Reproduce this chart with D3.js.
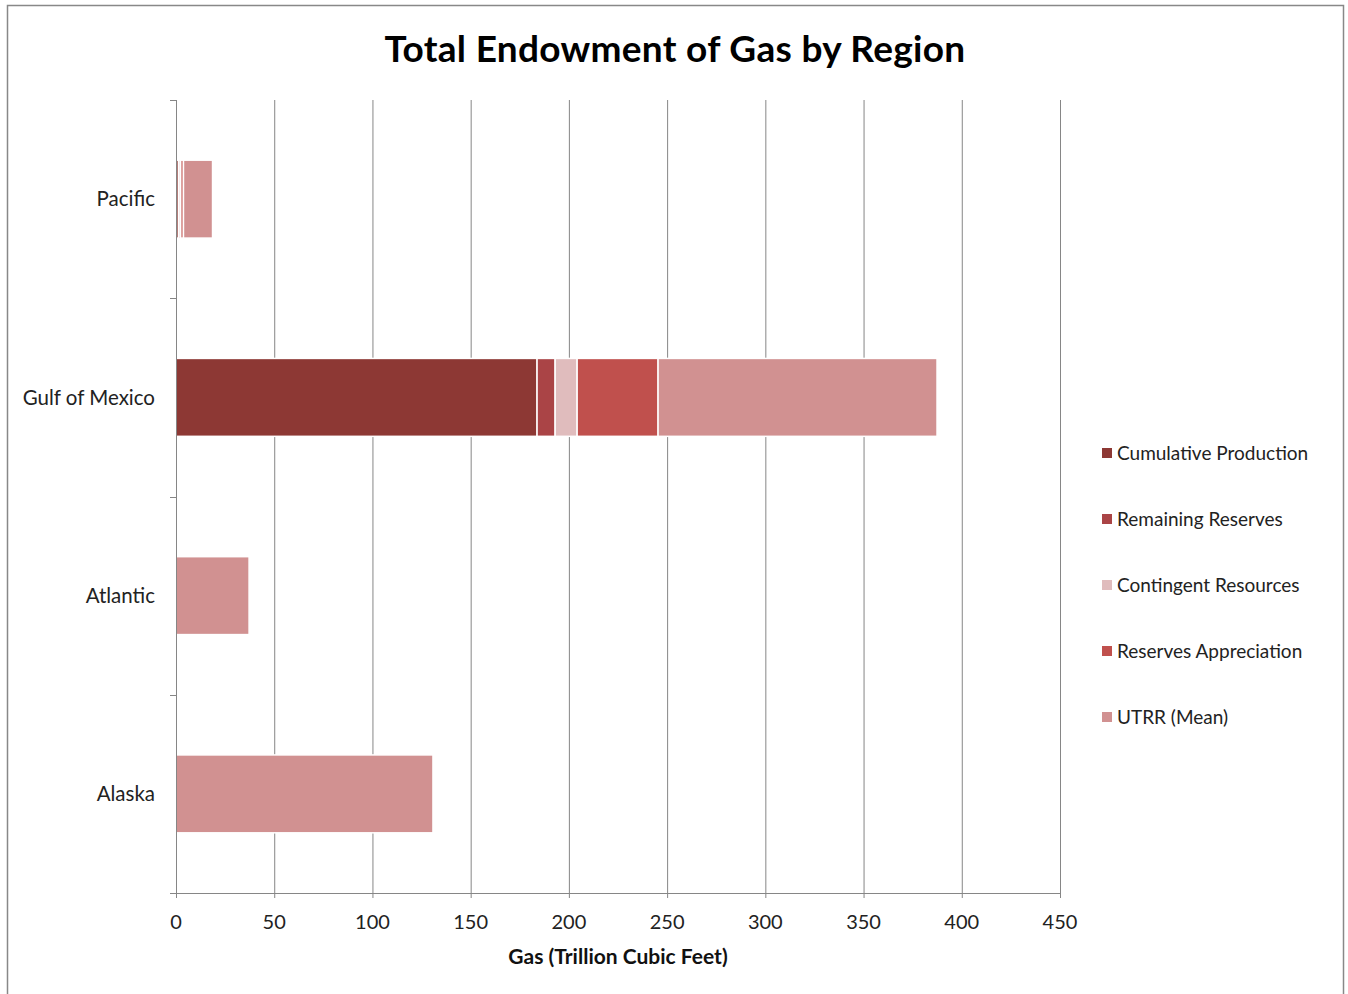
<!DOCTYPE html>
<html><head><meta charset="utf-8">
<script src="https://cdn.jsdelivr.net/npm/d3@7"></script>
<style>body{margin:0;background:#fff}svg{display:block}text{font-family:Lato,"Open Sans",sans-serif}</style>
</head><body>
<svg id="c" width="1348" height="994"></svg>
<script>
const categories = ["Pacific", "Gulf of Mexico", "Atlantic", "Alaska"];
const seriesNames = ["Cumulative Production", "Remaining Reserves", "Contingent Resources", "Reserves Appreciation", "UTRR (Mean)"];
const cumulativeProduction = [1.3, 183.8, 0, 0];
const remainingReserves = [0.8, 9.2, 0, 0];
const contingentResources = [0.3, 11.2, 0, 0];
const reservesAppreciation = [1.4, 41.2, 0, 0];
const utrrMean = [14.8, 142.0, 37.2, 130.8];
const xTicks = [0, 50, 100, 150, 200, 250, 300, 350, 400, 450];
const colors = ["#8d3834", "#aa4446", "#e0bcbd", "#c0504d", "#d19191"];

const svg = d3.select("#c");
svg.append("rect").attr("x",7.5).attr("y",5.5).attr("width",1336).attr("height",995)
  .attr("fill","#fff").attr("stroke","#888").attr("stroke-width",1.5);

const L=176, R=1060, T=100, B=893;
const x = d3.scaleLinear().domain([0,450]).range([L,R]);
const y = d3.scaleBand().domain(categories).range([T,B]).paddingInner(0.607).paddingOuter(0.3035);

// gridlines
svg.append("g").selectAll("line").data(xTicks.slice(1)).join("line")
  .attr("x1",d=>x(d)+0.5).attr("x2",d=>x(d)+0.5).attr("y1",T).attr("y2",B+5)
  .attr("stroke","#868686").attr("stroke-width",1);

// bars
const seriesVals = [cumulativeProduction, remainingReserves, contingentResources, reservesAppreciation, utrrMean];
const rows = categories.map((c,i)=>{const o={cat:c}; seriesNames.forEach((s,j)=>o[s]=seriesVals[j][i]); return o;});
const stack = d3.stack().keys(seriesNames)(rows);
svg.append("g").selectAll("g").data(stack).join("g").attr("fill",(d,i)=>colors[i])
  .selectAll("rect").data(d=>d.filter(e=>e[1]-e[0]>0)).join("rect")
  .attr("x",d=>x(d[0])).attr("width",d=>x(d[1])-x(d[0]))
  .attr("y",d=>y(d.data.cat)).attr("height",y.bandwidth())
  .attr("stroke","#fff").attr("stroke-width",1.5);

// y axis line and ticks
svg.append("line").attr("x1",L+0.5).attr("x2",L+0.5).attr("y1",T).attr("y2",B).attr("stroke","#868686");
const bandEdges = categories.map(c=>y(c)-y.step()*y.paddingInner()/2).concat([B]);
svg.append("g").selectAll("line").data(bandEdges).join("line")
  .attr("x1",L-6).attr("x2",L).attr("y1",d=>Math.round(d)+0.5).attr("y2",d=>Math.round(d)+0.5).attr("stroke","#868686");
svg.append("g").selectAll("text").data(categories).join("text")
  .attr("x",155).attr("y",d=>y(d)+y.bandwidth()/2).attr("dy","0.35em")
  .attr("text-anchor","end").attr("font-size",20.5).attr("fill","#222").text(d=>d);

// x axis
svg.append("line").attr("x1",L).attr("x2",R).attr("y1",B+0.5).attr("y2",B+0.5).attr("stroke","#868686");
svg.append("g").selectAll("line").data([0]).join("line")
  .attr("x1",d=>x(d)+0.5).attr("x2",d=>x(d)+0.5).attr("y1",B).attr("y2",B+5).attr("stroke","#868686");
svg.append("g").selectAll("text").data(xTicks).join("text")
  .attr("x",d=>x(d)).attr("y",929).attr("text-anchor","middle").attr("font-size",20).attr("fill","#222").text(d=>d);

svg.append("text").attr("x",(L+R)/2).attr("y",964).attr("text-anchor","middle")
  .attr("font-size",21).attr("font-weight","bold").attr("fill","#111").text("Gas (Trillion Cubic Feet)");

svg.append("text").attr("x",675).attr("y",62).attr("text-anchor","middle")
  .attr("font-size",37).attr("font-weight","bold").attr("letter-spacing",0.3).attr("fill","#000").text("Total Endowment of Gas by Region");

// legend
const lg = svg.append("g").selectAll("g").data(seriesNames).join("g")
  .attr("transform",(d,i)=>`translate(1102,${453+i*66})`);
lg.append("rect").attr("x",0).attr("y",-5).attr("width",10).attr("height",10).attr("fill",(d,i)=>colors[i]);
lg.append("text").attr("x",15).attr("y",0).attr("dy","0.35em").attr("font-size",19).attr("fill","#222").text(d=>d);
</script>
</body></html>
